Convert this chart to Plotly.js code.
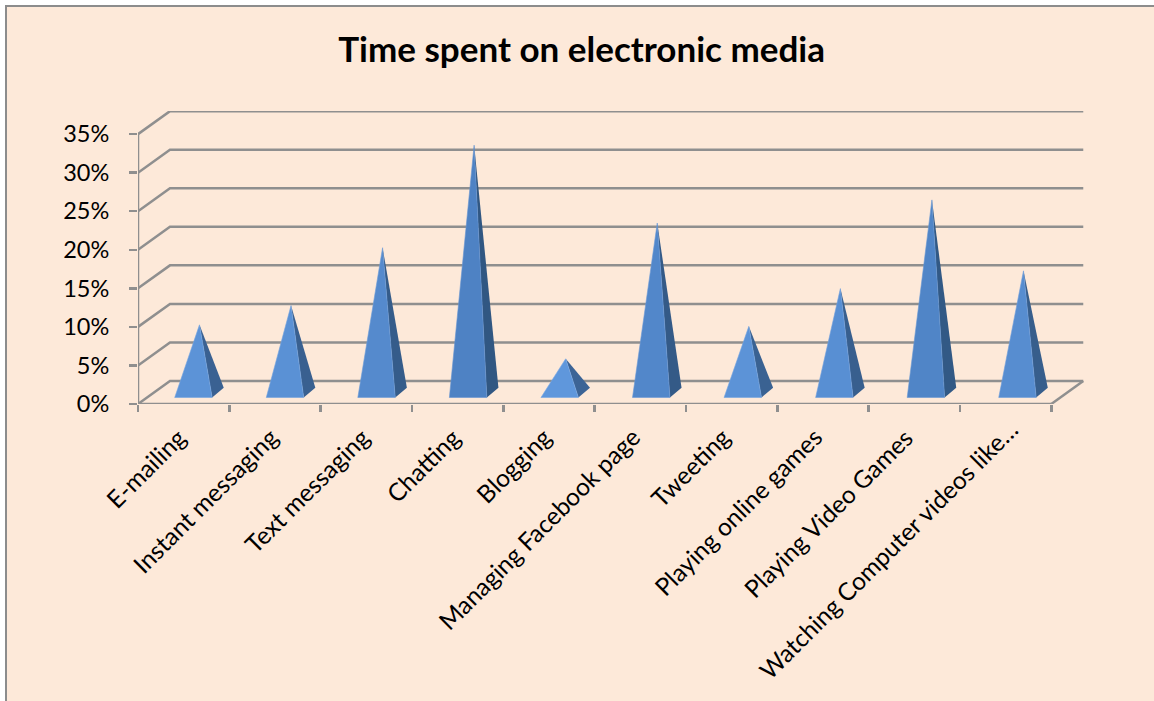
<!DOCTYPE html>
<html>
<head>
<meta charset="utf-8">
<script src="https://cdn.plot.ly/plotly-3.0.1.min.js"></script>
<style>
  html, body { margin: 0; padding: 0; background: #ffffff; overflow: hidden; }
  #frame { position: absolute; left: 5px; top: 5px; width: 1149px; height: 696px;
           background: #fde9d9; border-left: 2px solid #8c8c8c; border-top: 2px solid #8c8c8c; box-sizing: border-box; }
  #chart { position: absolute; left: 0; top: 0; width: 1154px; height: 701px; }
</style>
</head>
<body>
<div id="frame"></div>
<div id="chart"></div>
<script>
// Share of time per activity, in percent
const categories = ["E-mailing", "Instant messaging", "Text messaging", "Chatting", "Blogging",
  "Managing Facebook page", "Tweeting", "Playing online games", "Playing Video Games",
  "Watching Computer videos like…"];
const shares = [8.8, 11.3, 18.8, 32.1, 4.4, 22.0, 8.6, 13.5, 25.0, 15.8];
const yTicks = [0, 5, 10, 15, 20, 25, 30, 35];
const yTickLabels = ["0%", "5%", "10%", "15%", "20%", "25%", "30%", "35%"];

// Oblique projection: how far the back wall sits from the front plane, in axis units
const wallDx = 0.35, wallDy = 2.98;
// Pyramid footprint relative to the category centre
const frontDx = 0.107, frontLift = 0.84, halfWidth = 0.205;
const backDx = 0.127, backLift = 2.1;
const apexDx = 0.173, apexLift = 1.47;
const pitch = 1.0025;

const GRID = "#8f8f8f";
const Y_MAX = 38;

function mix(a, b, t) {
  const c = a.map((v, k) => Math.round(v + (b[k] - v) * t));
  return `rgb(${c[0]},${c[1]},${c[2]})`;
}

const traces = [];

// Back wall and side wall gridlines
yTicks.forEach(v => {
  traces.push({
    x: [0, wallDx, 10 + wallDx], y: [v, v + wallDy, v + wallDy],
    mode: "lines", line: { color: GRID, width: 2.5 }, hoverinfo: "skip", cliponaxis: false
  });
});
// Right edge of the floor
traces.push({
  x: [10, 10 + wallDx], y: [0, wallDy],
  mode: "lines", line: { color: GRID, width: 2.5 }, hoverinfo: "skip", cliponaxis: false
});
// Front value axis
traces.push({
  x: [0, 0], y: [0, 35],
  mode: "lines", line: { color: GRID, width: 2.5 }, hoverinfo: "skip", cliponaxis: false
});

// One pyramid per category: the lit front face and the shaded right face
shares.forEach((v, i) => {
  const c = i * pitch + 0.5;
  const t = Math.min(1, Math.max(0, (v - 4) / 24));
  const left = c + frontDx - halfWidth, right = c + frontDx + halfWidth;
  const apexX = c + apexDx, apexY = v + apexLift;
  traces.push({
    x: [right, right + backDx, apexX, right], y: [frontLift, backLift, apexY, frontLift],
    mode: "lines", fill: "toself", fillcolor: mix([60, 100, 150], [49, 87, 130], t),
    line: { width: 0 }, hoverinfo: "skip", cliponaxis: false
  });
  traces.push({
    x: [left, right, apexX, left], y: [frontLift, frontLift, apexY, frontLift],
    mode: "lines", fill: "toself", fillcolor: mix([95, 151, 220], [78, 130, 196], t),
    line: { width: 0.6, color: mix([120, 168, 228], [100, 148, 210], t) },
    hoverinfo: "skip", cliponaxis: false
  });
});

// Slanted category labels hanging under the floor
const labelOffsetX = [0.123, 0.12, 0.12, 0.115, 0.112, 0.088, 0.071, 0.082, 0.078, 0.225];
const labelDrop = categories.map((_, i) => i === 9 ? -1.0 : -2.0);
const annotations = categories.map((name, i) => ({
  text: name, x: i + 0.5 + labelOffsetX[i], y: labelDrop[i] / Y_MAX,
  xref: "x", yref: "paper", xanchor: "right", yanchor: "top",
  textangle: -45, showarrow: false,
  font: { family: "Lato, Carlito, sans-serif", size: 24.5, color: "#000000" }
}));

const layout = {
  width: 1154, height: 701,
  margin: { l: 138.3, r: 70, t: 110.6, b: 297.4, pad: 0 },
  paper_bgcolor: "rgba(0,0,0,0)", plot_bgcolor: "rgba(0,0,0,0)",
  showlegend: false, hovermode: false,
  title: {
    text: "<b>Time spent on electronic media</b>",
    font: { family: "Lato, Carlito, sans-serif", size: 35, color: "#000000" },
    x: 0.504, xanchor: "center", y: 0.929, yanchor: "middle"
  },
  xaxis: {
    range: [0, 10 + 0.358], tickmode: "array", tickvals: [0, 1, 2, 3, 4, 5, 6, 7, 8, 9, 10],
    showticklabels: false, ticks: "outside", ticklen: 7, tickwidth: 2.5, tickcolor: GRID,
    showgrid: false, zeroline: false, showline: false, automargin: false
  },
  yaxis: {
    range: [0, Y_MAX], tickmode: "array", tickvals: yTicks, ticktext: yTickLabels,
    ticks: "outside", ticklen: 8, tickwidth: 2.5, tickcolor: GRID, ticklabelstandoff: 15,
    tickfont: { family: "Lato, Carlito, sans-serif", size: 23.5, color: "#000000" },
    showgrid: false, zeroline: false, showline: false, automargin: false
  },
  annotations: annotations,
  shapes: [{ type: "line", xref: "x", yref: "y", x0: 0, x1: 10, y0: 0, y1: 0,
             line: { color: GRID, width: 2.5 }, layer: "below" }]
};

Plotly.newPlot("chart", traces, layout, { displayModeBar: false, staticPlot: true });
</script>
</body>
</html>
